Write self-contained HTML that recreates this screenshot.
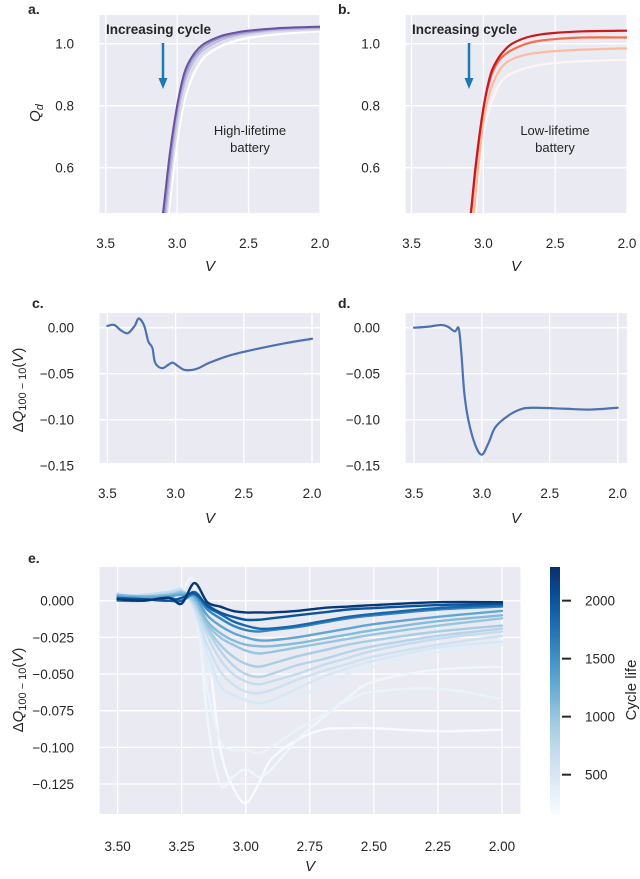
<!DOCTYPE html>
<html><head><meta charset="utf-8"><style>
html,body{margin:0;padding:0;background:#fff;}
svg text{font-family:"Liberation Sans",Arial,sans-serif;fill:#262626;}
</style></head><body>
<svg id="fig" width="640" height="874" viewBox="0 0 640 874" xmlns="http://www.w3.org/2000/svg"></svg>
<script>
// ---- panel a data (Qd vs V) ----
const voltsAB = [3.15,3.1,3.05,3.0,2.95,2.9,2.85,2.8,2.7,2.6,2.5,2.3,2.0];
const purpleCurves = [
  [0.12,0.27,0.49,0.68,0.81,0.885,0.93,0.96,0.99,1.008,1.018,1.03,1.04],
  [0.16,0.32,0.54,0.72,0.84,0.91,0.95,0.975,1.0,1.018,1.028,1.038,1.045],
  [0.20,0.37,0.58,0.76,0.87,0.93,0.965,0.985,1.01,1.025,1.034,1.044,1.05],
  [0.24,0.41,0.62,0.79,0.89,0.945,0.975,0.995,1.018,1.03,1.038,1.048,1.053],
  [0.28,0.45,0.65,0.80,0.905,0.955,0.985,1.003,1.024,1.035,1.042,1.05,1.055]
];
const purpleColors = ['#ffffff','#dadaeb','#bcbddc','#9e9ac8','#6a51a3'];
// ---- panel b data ----
const redCurves = [
  [0.10,0.25,0.47,0.70,0.80,0.86,0.89,0.905,0.922,0.932,0.938,0.944,0.948],
  [0.15,0.30,0.53,0.75,0.85,0.905,0.935,0.95,0.965,0.972,0.976,0.981,0.985],
  [0.24,0.39,0.61,0.79,0.89,0.94,0.965,0.98,1.0,1.01,1.015,1.02,1.02],
  [0.25,0.40,0.62,0.79,0.90,0.95,0.98,1.0,1.02,1.03,1.035,1.04,1.042]
];
const redColors = ['#fff5f0','#fcbba1','#fb6a4a','#cb181d'];
// ---- panel c / d ----
const voltsC = [3.5,3.45,3.4,3.35,3.3,3.27,3.23,3.2,3.17,3.15,3.1,3.05,3.02,2.98,2.93,2.85,2.75,2.6,2.4,2.2,2.0];
const dqC = [0.002,0.003,-0.003,-0.006,0.002,0.010,0.002,-0.015,-0.022,-0.038,-0.044,-0.040,-0.038,-0.042,-0.046,-0.045,-0.038,-0.030,-0.023,-0.017,-0.012];
const voltsD = [3.5,3.4,3.3,3.25,3.2,3.17,3.15,3.13,3.1,3.05,3.0,2.95,2.9,2.8,2.7,2.6,2.4,2.2,2.0];
const dqD = [0.000,0.001,0.003,0.001,-0.004,-0.001,-0.03,-0.07,-0.10,-0.127,-0.138,-0.125,-0.108,-0.095,-0.088,-0.087,-0.088,-0.089,-0.087];
// ---- panel e ----
const voltsE = [3.5,3.4,3.3,3.25,3.2,3.15,3.1,3.05,3.0,2.95,2.9,2.8,2.7,2.6,2.5,2.25,2.0];
const cycleLives = [161,250,300,400,500,600,700,800,900,1000,1100,1300,1600,1850,2000,2237];
const dqE = [
  [0.0,0.001,0.003,0.001,-0.004,-0.03,-0.10,-0.127,-0.138,-0.125,-0.108,-0.095,-0.088,-0.087,-0.087,-0.089,-0.088],
  [0.002,0.003,0.005,0.006,0.01,-0.08,-0.125,-0.12,-0.115,-0.12,-0.115,-0.095,-0.08,-0.066,-0.055,-0.047,-0.045],
  [0.003,0.004,0.006,0.007,-0.005,-0.06,-0.095,-0.102,-0.102,-0.104,-0.10,-0.088,-0.078,-0.068,-0.062,-0.060,-0.067],
  [0.002,0.004,0.007,0.008,-0.008,-0.04,-0.063,-0.066,-0.067,-0.070,-0.072,-0.066,-0.058,-0.050,-0.045,-0.035,-0.030],
  [0.004,0.003,0.005,0.008,-0.006,-0.035,-0.058,-0.064,-0.068,-0.070,-0.068,-0.060,-0.052,-0.046,-0.041,-0.032,-0.028],
  [0.005,0.002,0.006,0.006,-0.005,-0.030,-0.048,-0.057,-0.062,-0.063,-0.061,-0.054,-0.048,-0.043,-0.038,-0.030,-0.024],
  [0.003,0.004,0.006,0.007,-0.003,-0.024,-0.040,-0.050,-0.055,-0.057,-0.055,-0.050,-0.044,-0.039,-0.034,-0.026,-0.021],
  [0.004,0.002,0.005,0.005,-0.002,-0.020,-0.034,-0.044,-0.050,-0.052,-0.050,-0.044,-0.040,-0.035,-0.031,-0.024,-0.019],
  [0.003,0.002,0.004,0.006,0.0,-0.018,-0.030,-0.038,-0.043,-0.045,-0.043,-0.038,-0.034,-0.030,-0.027,-0.021,-0.017],
  [0.002,0.003,0.002,0.006,0.0,-0.016,-0.025,-0.030,-0.034,-0.036,-0.035,-0.032,-0.029,-0.026,-0.023,-0.017,-0.012],
  [0.004,0.003,0.004,0.005,0.002,-0.014,-0.022,-0.027,-0.030,-0.031,-0.031,-0.029,-0.026,-0.023,-0.020,-0.014,-0.010],
  [0.003,0.002,0.003,0.004,0.003,-0.010,-0.017,-0.022,-0.025,-0.027,-0.027,-0.025,-0.022,-0.019,-0.016,-0.011,-0.007],
  [0.0,0.0,0.002,0.0,0.004,-0.006,-0.012,-0.017,-0.020,-0.021,-0.020,-0.018,-0.015,-0.012,-0.010,-0.006,-0.004],
  [0.002,0.001,0.0,0.0,0.006,-0.004,-0.009,-0.014,-0.017,-0.019,-0.019,-0.017,-0.014,-0.011,-0.009,-0.005,-0.003],
  [0.001,0.001,0.0,0.002,0.005,-0.003,-0.008,-0.011,-0.013,-0.013,-0.012,-0.010,-0.008,-0.006,-0.005,-0.003,-0.002],
  [0.001,0.0,0.002,-0.002,0.012,-0.001,-0.004,-0.007,-0.008,-0.008,-0.008,-0.007,-0.005,-0.004,-0.003,-0.001,-0.001]
];
const xTicksAD = [3.5,3.0,2.5,2.0];
const yTicksAB = [1.0,0.8,0.6];
const yTicksCD = [0.00,-0.05,-0.10,-0.15];
const xTicksE = [3.50,3.25,3.00,2.75,2.50,2.25,2.00];
const yTicksE = [0.000,-0.025,-0.050,-0.075,-0.100,-0.125];
const cbTicks = [500,1000,1500,2000];

const NS='http://www.w3.org/2000/svg';
const svg=document.getElementById('fig');
const FS=13.5;
function mk(tag,attrs,parent){const e=document.createElementNS(NS,tag);for(const k in attrs)e.setAttribute(k,attrs[k]);(parent||svg).appendChild(e);return e;}
function txt(s,attrs,parent){const e=mk('text',attrs,parent);e.textContent=s;return e;}
function linScale(d0,d1,r0,r1){return v=>r0+(v-d0)/(d1-d0)*(r1-r0);}
function smoothPath(pts){
  let d='M'+pts[0][0].toFixed(2)+','+pts[0][1].toFixed(2);
  for(let i=0;i<pts.length-1;i++){
    const p0=pts[i-1]||pts[i],p1=pts[i],p2=pts[i+1],p3=pts[i+2]||p2;
    const c1=[p1[0]+(p2[0]-p0[0])/6,p1[1]+(p2[1]-p0[1])/6];
    const c2=[p2[0]-(p3[0]-p1[0])/6,p2[1]-(p3[1]-p1[1])/6];
    d+='C'+c1.map(v=>v.toFixed(2)).join(',')+' '+c2.map(v=>v.toFixed(2)).join(',')+' '+p2[0].toFixed(2)+','+p2[1].toFixed(2);
  }
  return d;
}
function panel(name,box,xs,ys,xt,yt,fmtY,fmtX){
  const g=mk('g',{});
  
  
  const bg=mk('rect',{x:box.l,y:box.t,width:box.r-box.l,height:box.b-box.t,fill:'#eaeaf2'},g);
  
  
  xt.forEach(v=>{const x=xs(v);
    const l=mk('line',{x1:x,x2:x,y1:box.t,y2:box.b,stroke:'#fff','stroke-width':1.3},g);
    
    
    const t=txt(fmtX(v),{x:x,y:box.xl,'text-anchor':'middle','font-size':FS},g);
    
    
  });
  yt.forEach(v=>{const y=ys(v);
    if(y>=box.t-1&&y<=box.b-2){const l=mk('line',{x1:box.l,x2:box.r,y1:y,y2:y,stroke:'#fff','stroke-width':1.3},g);
    
    }
    const t=txt(fmtY(v),{x:box.yl,y:y+5,'text-anchor':'end','font-size':FS},g);
    
    
  });
  const cp=mk('clipPath',{id:'clip-'+name},g);
  mk('rect',{x:box.l,y:box.t,width:box.r-box.l,height:box.b-box.t},cp);
  const lines=mk('g',{'clip-path':'url(#clip-'+name+')'},g);
  return lines;
}
function series(parent,xs,ys,vx,vy,color,w,name){
  const pts=vx.map((v,i)=>[xs(v),ys(vy[i])]);
  const p=mk('path',{d:smoothPath(pts),fill:'none',stroke:color,'stroke-width':w,'stroke-linejoin':'round','stroke-linecap':'round'},parent);
  
  
}
const f1=v=>v.toFixed(1), f2=v=>v===0?'0.00':'\u2212'+Math.abs(v).toFixed(2), f3=v=>v===0?'0.000':'\u2212'+Math.abs(v).toFixed(3), fx2=v=>v.toFixed(2);

{const box={l:99.6,r:320,t:15,b:213,xl:248,yl:74};
 const xs=linScale(3.5,2.0,105.7,320), ys=linScale(1.0,0.6,43.7,167.7);
 const g=panel('panel-a',box,xs,ys,xTicksAD,yTicksAB,f1,f1);
 purpleCurves.forEach((c,i)=>series(g,xs,ys,voltsAB,c,purpleColors[i],2,'purple-cycle-curve'));
}
{const box={l:405.7,r:627,t:15,b:213,xl:248,yl:380};
 const xs=linScale(3.5,2.0,411.5,627), ys=linScale(1.0,0.6,43.7,167.7);
 const g=panel('panel-b',box,xs,ys,xTicksAD,yTicksAB,f1,f1);
 redCurves.forEach((c,i)=>series(g,xs,ys,voltsAB,c,redColors[i],2.2,'red-cycle-curve'));
}
{const box={l:99.6,r:320,t:313,b:463,xl:498,yl:74};
 const xs=linScale(3.5,2.0,107.4,312), ys=linScale(0,-0.15,327.7,465.7);
 const g=panel('panel-c',box,xs,ys,xTicksAD,yTicksCD,f2,f1);
 series(g,xs,ys,voltsC,dqC,'#4c72b0',2.2,'delta-q-curve-high');
}
{const box={l:405.7,r:627,t:313,b:463,xl:498,yl:380};
 const xs=linScale(3.5,2.0,414,617.6), ys=linScale(0,-0.15,327.7,465.7);
 const g=panel('panel-d',box,xs,ys,xTicksAD,yTicksCD,f2,f1);
 series(g,xs,ys,voltsD,dqD,'#4c72b0',2.2,'delta-q-curve-low');
}
const blues=[[247,251,255],[222,235,247],[198,219,239],[158,202,225],[107,174,214],[66,146,198],[33,113,181],[8,81,156],[8,48,107]];
function bluesAt(t){t=Math.max(0,Math.min(1,t))*8;const i=Math.min(7,Math.floor(t)),f=t-i;const a=blues[i],b=blues[i+1];return 'rgb('+a.map((v,k)=>Math.round(v+(b[k]-v)*f)).join(',')+')';}
const lifeMin=161, lifeMax=2290;
{const box={l:99.6,r:520.5,t:567,b:814,xl:851,yl:74};
 const xs=linScale(3.5,2.0,117.6,502), ys=linScale(0,-0.125,600.7,784);
 const g=panel('panel-e',box,xs,ys,xTicksE,yTicksE,f3,fx2);
 dqE.forEach((c,i)=>series(g,xs,ys,voltsE,c,bluesAt((cycleLives[i]-lifeMin)/(lifeMax-lifeMin)),2.4,'cycle-life-curve'));
 const defs=mk('defs',{});
 const lg=mk('linearGradient',{id:'cbgrad',x1:0,y1:1,x2:0,y2:0},defs);
 blues.forEach((c,i)=>mk('stop',{offset:(i/8),'stop-color':'rgb('+c.join(',')+')'},lg));
 const cb=mk('rect',{x:550,y:567,width:10,height:247,fill:'url(#cbgrad)'});
 
 
 const cs=linScale(lifeMin,lifeMax,814,567);
 cbTicks.forEach(v=>{const y=cs(v);
  const l=mk('line',{x1:562,x2:571,y1:y,y2:y,stroke:'#262626','stroke-width':2});
  
  
  const t=txt(String(v),{x:585,y:y+5,'font-size':FS});
  
  
 });
}
</script>
<script>
(function(){
const svg=document.getElementById('fig');
svg.insertAdjacentHTML('beforeend',`
<text x="28" y="14" font-size="14" font-weight="bold">a.</text>
<text x="338" y="14" font-size="14" font-weight="bold">b.</text>
<text x="32" y="308" font-size="14" font-weight="bold">c.</text>
<text x="338" y="308" font-size="14" font-weight="bold">d.</text>
<text x="28" y="563" font-size="14" font-weight="bold">e.</text>
<text transform="translate(40,113) rotate(-90)" text-anchor="middle" font-size="15"><tspan font-style="italic">Q</tspan><tspan font-style="italic" font-size="11" dy="3">d</tspan></text>
<text x="210" y="271" text-anchor="middle" font-size="15" font-style="italic">V</text>
<text x="516" y="271" text-anchor="middle" font-size="15" font-style="italic">V</text>
<text x="210" y="523" text-anchor="middle" font-size="15" font-style="italic">V</text>
<text x="516" y="523" text-anchor="middle" font-size="15" font-style="italic">V</text>
<text x="310" y="871" text-anchor="middle" font-size="15" font-style="italic">V</text>
<text transform="translate(23,390) rotate(-90)" text-anchor="middle" font-size="15">Δ<tspan font-style="italic">Q</tspan><tspan font-size="11" dy="3">100 − 10</tspan><tspan dy="-3">(</tspan><tspan font-style="italic">V</tspan>)</text>
<text transform="translate(23,690) rotate(-90)" text-anchor="middle" font-size="15">Δ<tspan font-style="italic">Q</tspan><tspan font-size="11" dy="3">100 − 10</tspan><tspan dy="-3">(</tspan><tspan font-style="italic">V</tspan>)</text>
<text transform="translate(636,690) rotate(-90)" text-anchor="middle" font-size="15">Cycle life</text>
<text x="106" y="34" font-size="13.5" font-weight="bold">Increasing cycle</text>
<text x="412" y="34" font-size="13.5" font-weight="bold">Increasing cycle</text>
<g><line x1="163" y1="43" x2="163" y2="80" stroke="#1f77b4" stroke-width="2.5"/><polygon points="158.5,78 167.5,78 163,89" fill="#1f77b4"/></g>
<g><line x1="469" y1="43" x2="469" y2="80" stroke="#1f77b4" stroke-width="2.5"/><polygon points="464.5,78 473.5,78 469,89" fill="#1f77b4"/></g>
<text x="250" y="135" text-anchor="middle" font-size="13">High-lifetime</text>
<text x="250" y="152" text-anchor="middle" font-size="13">battery</text>
<text x="555" y="135" text-anchor="middle" font-size="13">Low-lifetime</text>
<text x="555" y="152" text-anchor="middle" font-size="13">battery</text>
`);
})();
</script>
</body></html>
